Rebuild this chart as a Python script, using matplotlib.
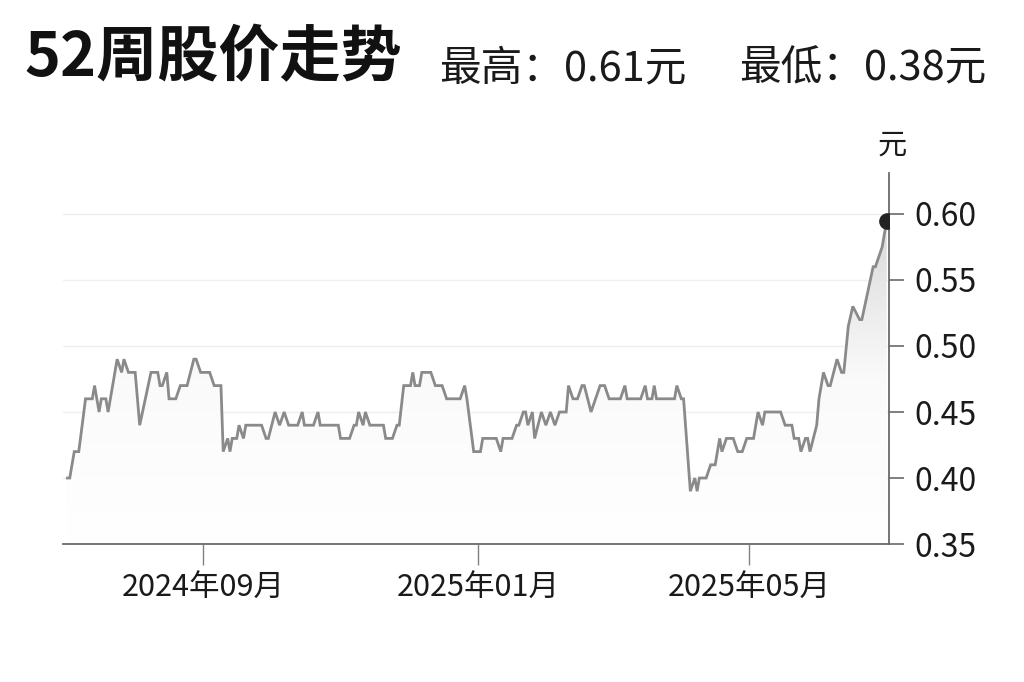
import numpy as np
import pandas as pd
import matplotlib
matplotlib.use("Agg")
import matplotlib.pyplot as plt
import matplotlib.dates as mdates
from matplotlib.patches import Polygon

plt.rcParams['font.family'] = ['Noto Sans CJK SC', 'DejaVu Sans']

# 价格转折点
dates = [
    "2024-07-03", "2024-07-04", "2024-07-06", "2024-07-08", "2024-07-11",
    "2024-07-14", "2024-07-15", "2024-07-17", "2024-07-18", "2024-07-20",
    "2024-07-21", "2024-07-25", "2024-07-27", "2024-07-28", "2024-07-30",
    "2024-08-02", "2024-08-04", "2024-08-09", "2024-08-12", "2024-08-13",
    "2024-08-14", "2024-08-16", "2024-08-17", "2024-08-20", "2024-08-22",
    "2024-08-25", "2024-08-28", "2024-08-29", "2024-08-31", "2024-09-04",
    "2024-09-06", "2024-09-09", "2024-09-10", "2024-09-12", "2024-09-13",
    "2024-09-14", "2024-09-16", "2024-09-17", "2024-09-19", "2024-09-20",
    "2024-09-27", "2024-09-29", "2024-09-30", "2024-10-03", "2024-10-05",
    "2024-10-07", "2024-10-09", "2024-10-13", "2024-10-15", "2024-10-16",
    "2024-10-20", "2024-10-22", "2024-10-23", "2024-10-31", "2024-11-01",
    "2024-11-05", "2024-11-07", "2024-11-08", "2024-11-09", "2024-11-11",
    "2024-11-12", "2024-11-14", "2024-11-20", "2024-11-21", "2024-11-24",
    "2024-11-26", "2024-11-27", "2024-11-29", "2024-12-02", "2024-12-03",
    "2024-12-04", "2024-12-06", "2024-12-07", "2024-12-11", "2024-12-13",
    "2024-12-16", "2024-12-18", "2024-12-24", "2024-12-26", "2024-12-27",
    "2024-12-30", "2025-01-02", "2025-01-03", "2025-01-09", "2025-01-11",
    "2025-01-12", "2025-01-16", "2025-01-18", "2025-01-19", "2025-01-21",
    "2025-01-22", "2025-01-23", "2025-01-25", "2025-01-26", "2025-01-29",
    "2025-01-31", "2025-02-02", "2025-02-04", "2025-02-06", "2025-02-09",
    "2025-02-10", "2025-02-12", "2025-02-14", "2025-02-16", "2025-02-17",
    "2025-02-20", "2025-02-22", "2025-02-24", "2025-02-26", "2025-02-28",
    "2025-03-05", "2025-03-07", "2025-03-08", "2025-03-14", "2025-03-16",
    "2025-03-17", "2025-03-19", "2025-03-20", "2025-03-21", "2025-03-29",
    "2025-03-30", "2025-04-01", "2025-04-02", "2025-04-05", "2025-04-07",
    "2025-04-08", "2025-04-09", "2025-04-12", "2025-04-14", "2025-04-16",
    "2025-04-18", "2025-04-19", "2025-04-21", "2025-04-24", "2025-04-26",
    "2025-04-28", "2025-04-30", "2025-05-03", "2025-05-05", "2025-05-07",
    "2025-05-08", "2025-05-15", "2025-05-17", "2025-05-20", "2025-05-21",
    "2025-05-23", "2025-05-24", "2025-05-26", "2025-05-27", "2025-05-28",
    "2025-05-31", "2025-06-01", "2025-06-03", "2025-06-05", "2025-06-06",
    "2025-06-09", "2025-06-11", "2025-06-12", "2025-06-14", "2025-06-16",
    "2025-06-19", "2025-06-20", "2025-06-25", "2025-06-26", "2025-06-28",
    "2025-06-29", "2025-07-01",
]
prices = [
    0.40, 0.40, 0.42, 0.42, 0.46,
    0.46, 0.47, 0.45, 0.46, 0.46,
    0.45, 0.49, 0.48, 0.49, 0.48,
    0.48, 0.44, 0.48, 0.48, 0.47,
    0.47, 0.48, 0.46, 0.46, 0.47,
    0.47, 0.49, 0.49, 0.48, 0.48,
    0.47, 0.47, 0.42, 0.43, 0.42,
    0.43, 0.43, 0.44, 0.43, 0.44,
    0.44, 0.43, 0.43, 0.45, 0.44,
    0.45, 0.44, 0.44, 0.45, 0.44,
    0.44, 0.45, 0.44, 0.44, 0.43,
    0.43, 0.44, 0.44, 0.45, 0.44,
    0.45, 0.44, 0.44, 0.43, 0.43,
    0.44, 0.44, 0.47, 0.47, 0.48,
    0.47, 0.47, 0.48, 0.48, 0.47,
    0.47, 0.46, 0.46, 0.47, 0.46,
    0.42, 0.42, 0.43, 0.43, 0.42,
    0.43, 0.43, 0.44, 0.44, 0.45,
    0.45, 0.44, 0.45, 0.43, 0.45,
    0.44, 0.45, 0.44, 0.45, 0.45,
    0.47, 0.46, 0.46, 0.47, 0.47,
    0.45, 0.46, 0.47, 0.47, 0.46,
    0.46, 0.47, 0.46, 0.46, 0.47,
    0.46, 0.46, 0.47, 0.46, 0.46,
    0.47, 0.46, 0.46, 0.39, 0.40,
    0.39, 0.40, 0.40, 0.41, 0.41,
    0.43, 0.42, 0.43, 0.43, 0.42,
    0.42, 0.43, 0.43, 0.45, 0.44,
    0.45, 0.45, 0.44, 0.44, 0.43,
    0.43, 0.42, 0.43, 0.43, 0.42,
    0.44, 0.46, 0.48, 0.47, 0.47,
    0.49, 0.48, 0.48, 0.515, 0.53,
    0.52, 0.52, 0.56, 0.56, 0.57,
    0.575, 0.595,
]

title = "52周股价走势"
high_text = "最高：0.61元"
low_text = "最低：0.38元"
unit = "元"
y_ticks = [0.35, 0.40, 0.45, 0.50, 0.55, 0.60]
x_tick_dates = ["2024-09-01", "2025-01-01", "2025-05-01"]
x_tick_labels = ["2024年09月", "2025年01月", "2025年05月"]

x = pd.to_datetime(dates)
y = np.array(prices)

fig = plt.figure(figsize=(10.24, 6.82), dpi=100)
ax = fig.add_axes([0.0615, 0.2023, 0.8066, 0.5440])

ymin, ymax = 0.35, 0.631
xmin, xmax = pd.Timestamp("2024-07-01"), pd.Timestamp("2025-07-02")
ax.set_xlim(xmin, xmax)
ax.set_ylim(ymin, ymax)

# 渐变填充
xn = mdates.date2num(x)
verts = [(xn[0], ymin)] + list(zip(xn, y)) + [(xn[-1], ymin)]
poly = Polygon(verts, closed=True, facecolor='none', edgecolor='none')
ax.add_patch(poly)
grad = np.linspace(0, 1, 256).reshape(-1, 1)
cmap = matplotlib.colors.LinearSegmentedColormap.from_list(
    'g', ['#ffffff', '#fafafa', '#d8d8d8'])
img = ax.imshow(grad, extent=[mdates.date2num(xmin), mdates.date2num(xmax), ymin, 0.60],
                origin='lower', aspect='auto', cmap=cmap, zorder=1)
img.set_clip_path(poly)

ax.plot(x, y, color='#8a8a8a', lw=2.0, zorder=3, solid_joinstyle='miter')
ax.plot(x[-1], y[-1], 'o', color='#222222', markersize=11, zorder=4)

# 坐标轴
for side in ['left', 'top']:
    ax.spines[side].set_visible(False)
for side in ['bottom', 'right']:
    ax.spines[side].set_color('#6a6a6a')
    ax.spines[side].set_linewidth(1.3)

ax.yaxis.tick_right()
ax.set_yticks(y_ticks)
ax.set_yticklabels([f"{v:.2f}" for v in y_ticks])
ax.set_xticks(pd.to_datetime(x_tick_dates))
ax.set_xticklabels(x_tick_labels)
ax.tick_params(axis='y', length=11, width=1.2, color='#6a6a6a', pad=7,
               labelsize=23, labelcolor='#1a1a1a')
ax.tick_params(axis='x', length=15, width=1.0, color='#808080', pad=5,
               labelsize=22, labelcolor='#1a1a1a')

for v in y_ticks[1:]:
    ax.axhline(v, color='#efefef', lw=1.0, zorder=0)

ax.annotate(unit, xy=(1.0, 1.0), xycoords='axes fraction', xytext=(2, 20),
            textcoords='offset points', ha='center', va='center',
            fontsize=21, color='#1a1a1a')

fig.text(24 / 1024, 1 - 76 / 682, title, fontsize=44, fontweight='bold',
         color='#111111', va='baseline', ha='left')
fig.text(439 / 1024, 1 - 80 / 682, high_text, fontsize=30,
         color='#1a1a1a', va='baseline', ha='left')
fig.text(739 / 1024, 1 - 80 / 682, low_text, fontsize=30,
         color='#1a1a1a', va='baseline', ha='left')

fig.savefig("out.png", dpi=100, facecolor='white')
